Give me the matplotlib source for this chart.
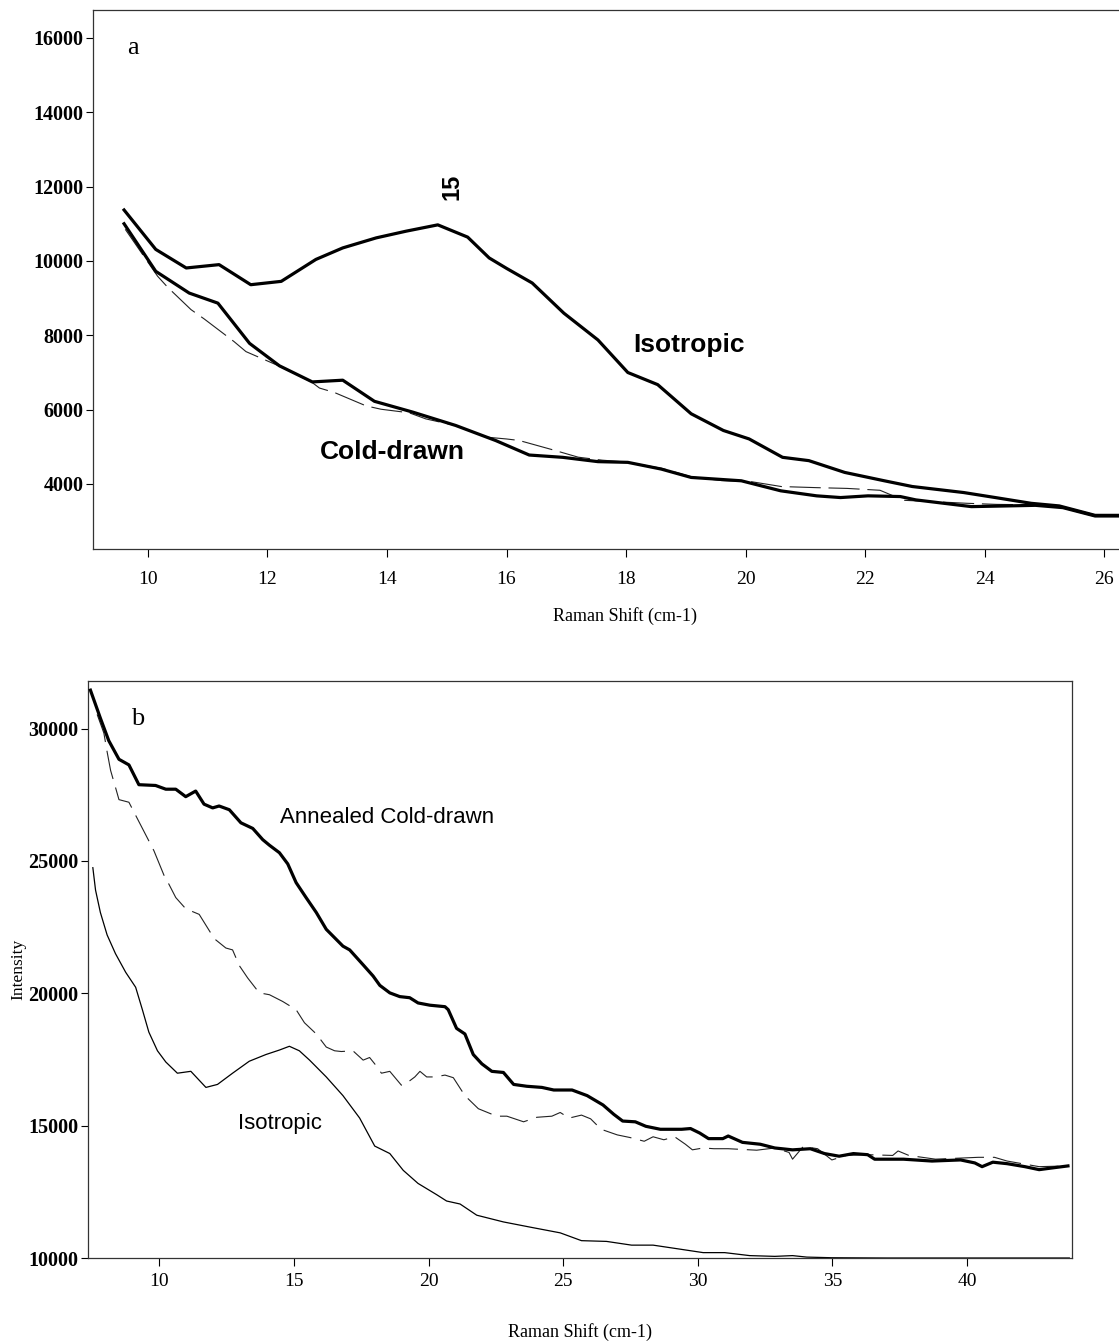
import matplotlib
matplotlib.use("Agg")
import matplotlib.pyplot as plt

# ---------------- Panel a data ----------------
a_iso_x = [9.60, 10.13, 10.64, 11.19, 11.72, 12.23, 12.81, 13.26, 13.82, 14.32, 14.85, 15.35,
           15.71, 16.0, 16.43, 16.96, 17.53, 18.03, 18.53, 19.09, 19.63, 20.06, 20.62, 21.06,
           21.66, 22.32, 22.79, 23.65, 24.18, 24.78, 25.25, 25.85, 26.35]
a_iso_y = [11370, 10310, 9810, 9900, 9360, 9450, 10040, 10350, 10620, 10800, 10970, 10640,
           10080, 9800, 9406, 8594, 7874, 6998, 6672, 5888, 5438, 5211, 4716, 4627,
           4310, 4086, 3931, 3769, 3634, 3479, 3409, 3155, 3155]

a_cold_x = [9.60, 10.13, 10.69, 11.17, 11.70, 12.20, 12.75, 13.26, 13.79, 14.43, 15.15, 15.82,
            16.38, 16.94, 17.53, 18.03, 18.59, 19.09, 19.93, 20.59, 21.19, 21.59, 22.05, 22.59,
            22.85, 23.78, 24.38, 24.85, 25.31, 25.85, 26.35]
a_cold_y = [11000, 9720, 9135, 8864, 7782, 7178, 6745, 6791, 6223, 5933, 5573, 5167,
            4778, 4716, 4600, 4581, 4400, 4175, 4085, 3815, 3680, 3634, 3680, 3661,
            3571, 3390, 3409, 3425, 3363, 3138, 3138]

a_dash_x = [9.62, 10.16, 10.33, 10.72, 10.94, 11.44, 11.64, 12.14, 12.73, 12.87, 13.12, 13.65,
            13.90, 14.37, 14.65, 15.15, 15.66, 16.0, 16.21, 16.77, 17.2, 17.6, 18.0, 18.6,
            19.1, 19.6, 20.1, 20.6, 21.2, 21.7, 22.25, 22.65, 23.2, 23.7, 24.2, 24.8, 25.3,
            25.85, 26.3]
a_dash_y = [10850, 9590, 9290, 8690, 8440, 7830, 7560, 7210, 6750, 6580, 6460, 6100,
            6010, 5915, 5750, 5570, 5260, 5210, 5170, 4920, 4720, 4640, 4590, 4420,
            4190, 4090, 4060, 3930, 3900, 3880, 3830, 3560, 3520, 3480, 3450, 3440, 3380,
            3170, 3150]

a_yticks = [4000, 6000, 8000, 10000, 12000, 14000, 16000]
a_xticks = [10, 12, 14, 16, 18, 20, 22, 24, 26]

# ---------------- Panel b data ----------------
b_ann_x = [7.44, 7.81, 8.12, 8.50, 8.87, 9.24, 9.86, 10.24, 10.61, 10.98, 11.35, 11.66, 11.98,
           12.22, 12.60, 13.03, 13.47, 13.84, 14.09, 14.46, 14.77, 15.08, 15.45, 15.83, 16.20,
           16.82, 17.07, 17.57, 17.94, 18.19, 18.56, 18.93, 19.30, 19.61, 20.05, 20.61, 20.73,
           21.04, 21.35, 21.66, 21.98, 22.35, 22.78, 23.16, 23.65, 24.21, 24.65, 25.33, 25.89,
           26.48, 26.88, 27.21, 27.68, 28.07, 28.61, 29.40, 29.73, 30.07, 30.40, 30.93, 31.13,
           31.66, 32.32, 32.86, 33.52, 34.18, 34.71, 35.25, 35.78, 36.31, 36.57, 37.64, 38.70,
           39.76, 40.29, 40.56, 40.96, 41.49, 42.15, 42.68, 43.21, 43.75]
b_ann_y = [31454, 30395, 29548, 28842, 28630, 27882, 27853, 27712, 27712, 27430, 27642, 27147,
           27006, 27077, 26936, 26442, 26230, 25806, 25595, 25312, 24889, 24183, 23618, 23053,
           22418, 21782, 21641, 21076, 20653, 20300, 20017, 19876, 19834, 19636, 19551, 19495,
           19382, 18676, 18464, 17688, 17335, 17052, 17010, 16558, 16488, 16445, 16347, 16347,
           16135, 15781, 15428, 15174, 15145, 14976, 14863, 14863, 14891, 14722, 14510, 14510,
           14609, 14369, 14298, 14157, 14086, 14129, 13945, 13846, 13945, 13903, 13733, 13733,
           13663, 13705, 13592, 13451, 13620, 13564, 13451, 13338, 13409, 13479]

b_iso_x = [7.53, 7.63, 7.81, 8.06, 8.37, 8.75, 9.12, 9.37, 9.61, 9.93, 10.24, 10.67, 11.17,
           11.73, 12.16, 12.72, 13.34, 13.96, 14.46, 14.83, 15.20, 15.58, 16.20, 16.82, 17.44,
           18.00, 18.56, 19.06, 19.61, 20.30, 20.67, 21.17, 21.79, 22.78, 23.78, 24.89, 25.68,
           26.61, 27.54, 28.34, 29.27, 30.20, 31.00, 31.93, 32.86, 33.52, 34.05, 34.98, 37.0,
           40.0, 43.8]
b_iso_y = [24747, 23900, 23053, 22206, 21500, 20794, 20229, 19382, 18535, 17829, 17405, 16982,
           17053, 16445, 16558, 16982, 17434, 17688, 17857, 17999, 17829, 17476, 16841, 16135,
           15288, 14229, 13947, 13311, 12817, 12393, 12153, 12040, 11617, 11363, 11165, 10950,
           10655, 10627, 10486, 10486, 10345, 10203, 10203, 10090, 10062, 10090, 10034, 10010,
           10000, 10000, 10000]

b_dash_x = [7.69, 7.94, 8.06, 8.19, 8.37, 8.50, 8.87, 9.12, 9.55, 9.80, 10.17, 10.36, 10.61,
            10.98, 11.48, 12.04, 12.47, 12.72, 12.97, 13.28, 13.71, 14.09, 14.58, 15.08, 15.39,
            15.83, 16.20, 16.51, 16.76, 17.19, 17.57, 17.81, 18.00, 18.25, 18.56, 18.99, 19.12,
            19.49, 19.68, 19.93, 20.24, 20.61, 20.92, 21.35, 21.85, 22.53, 22.91, 23.53, 24.02,
            24.58, 24.89, 25.22, 25.68, 26.02, 26.41, 27.01, 27.48, 28.01, 28.34, 28.74, 29.14,
            29.54, 29.80, 30.20, 30.60, 31.13, 32.19, 32.86, 33.39, 33.52, 33.92, 34.45, 34.98,
            35.51, 36.31, 37.24, 37.44, 37.84, 38.83, 40.42, 41.02, 41.49, 42.68, 43.75]
b_dash_y = [30537, 29831, 29125, 28419, 27784, 27318, 27219, 26725, 25878, 25384, 24466, 24113,
            23618, 23195, 22983, 22065, 21712, 21641, 21048, 20582, 20018, 19947, 19693, 19382,
            18888, 18464, 17970, 17829, 17801, 17829, 17476, 17575, 17335, 16982, 17052, 16530,
            16558, 16841, 17052, 16841, 16841, 16911, 16812, 16134, 15640, 15358, 15358, 15146,
            15316, 15358, 15498, 15286, 15399, 15258, 14863, 14651, 14552, 14411, 14580, 14467,
            14580, 14298, 14087, 14157, 14129, 14129, 14073, 14157, 13988, 13734, 14214, 14129,
            13705, 13875, 13903, 13875, 14044, 13875, 13734, 13804, 13804, 13663, 13451, 13479]

b_yticks = [10000, 15000, 20000, 25000, 30000]
b_xticks = [10, 15, 20, 25, 30, 35, 40]

# ---------------- Figure ----------------
W, H = 1119, 1342
fig = plt.figure(figsize=(W / 100, H / 100), dpi=100)
fig.patch.set_facecolor("white")

serif = ["Liberation Serif", "DejaVu Serif"]
sans = ["Liberation Sans", "DejaVu Sans"]
spine_col = "#333333"


def style_axes(ax, xticks, yticks, xpad):
    for s in ["left", "bottom", "top", "right"]:
        ax.spines[s].set_color(spine_col)
        ax.spines[s].set_linewidth(0.9)
    ax.set_xticks(xticks)
    ax.set_yticks(yticks)
    ax.set_xticklabels([str(t) for t in xticks], fontfamily=serif, fontsize=14)
    ax.set_yticklabels([str(t) for t in yticks], fontfamily=serif, fontsize=14.5,
                       fontweight="bold")
    ax.tick_params(axis="y", direction="out", length=5, width=0.8, pad=2, colors="black")
    ax.tick_params(axis="x", direction="out", length=6, width=0.8, pad=xpad, colors="black")
    for t in ax.get_xticklines() + ax.get_yticklines():
        t.set_color(spine_col)


# ---- Panel a ----
axA = fig.add_axes([93 / W, 1 - 549 / H, 1 - 93 / W, (549 - 10) / H])
axA.plot(a_dash_x, a_dash_y, color="#222222", lw=0.8, dashes=(28, 7), zorder=2)
axA.plot(a_cold_x, a_cold_y, color="black", lw=2.3, zorder=3, solid_joinstyle="round")
axA.plot(a_iso_x, a_iso_y, color="black", lw=2.3, zorder=3, solid_joinstyle="round")
axA.set_xlim(9.08, 26.25)
axA.set_ylim(2250, 16750)
style_axes(axA, a_xticks, a_yticks, xpad=10)
axA.spines["right"].set_visible(False)
axA.set_xlabel("Raman Shift (cm-1)", fontfamily=serif, fontsize=13)
axA.xaxis.set_label_coords((625 - 93) / (W - 93), -(616 - 549) / (549 - 10))
axA.xaxis.label.set_va("center")

axA.text(9.74, 15730, "a", fontfamily=serif, fontsize=19, ha="center", va="center")
axA.text(15.08, 12000, "15", fontfamily=sans, fontsize=17, fontweight="bold",
         rotation=90, ha="center", va="center")
axA.text(19.06, 7747, "Isotropic", fontfamily=sans, fontsize=19, fontweight="bold",
         ha="center", va="center")
axA.text(14.09, 4851, "Cold-drawn", fontfamily=sans, fontsize=19, fontweight="bold",
         ha="center", va="center")

# ---- Panel b ----
axB = fig.add_axes([88 / W, 1 - 1258 / H, (1072 - 88) / W, (1258 - 681) / H])
axB.plot(b_dash_x, b_dash_y, color="#222222", lw=0.8, dashes=(26, 8), zorder=2)
axB.plot(b_iso_x, b_iso_y, color="black", lw=0.9, zorder=2)
axB.plot(b_ann_x, b_ann_y, color="black", lw=2.3, zorder=3, solid_joinstyle="round")
axB.set_xlim(7.35, 43.9)
axB.set_ylim(10000, 31800)
style_axes(axB, b_xticks, b_yticks, xpad=5)
axB.set_xlabel("Raman Shift (cm-1)", fontfamily=serif, fontsize=13)
axB.xaxis.set_label_coords(0.5, -(1332 - 1258) / (1258 - 681))
axB.xaxis.label.set_va("center")
axB.set_ylabel("Intensity", fontfamily=serif, fontsize=12.5)
axB.yaxis.set_label_coords((18 - 88) / (1072 - 88), 0.5)
axB.yaxis.label.set_va("center")

axB.text(9.18, 30380, "b", fontfamily=serif, fontsize=19, ha="center", va="center")
axB.text(18.47, 26643, "Annealed Cold-drawn", fontfamily=sans, fontsize=16,
         ha="center", va="center")
axB.text(14.49, 15095, "Isotropic", fontfamily=sans, fontsize=16,
         ha="center", va="center")

fig.savefig("out.png", dpi=100, facecolor="white")
